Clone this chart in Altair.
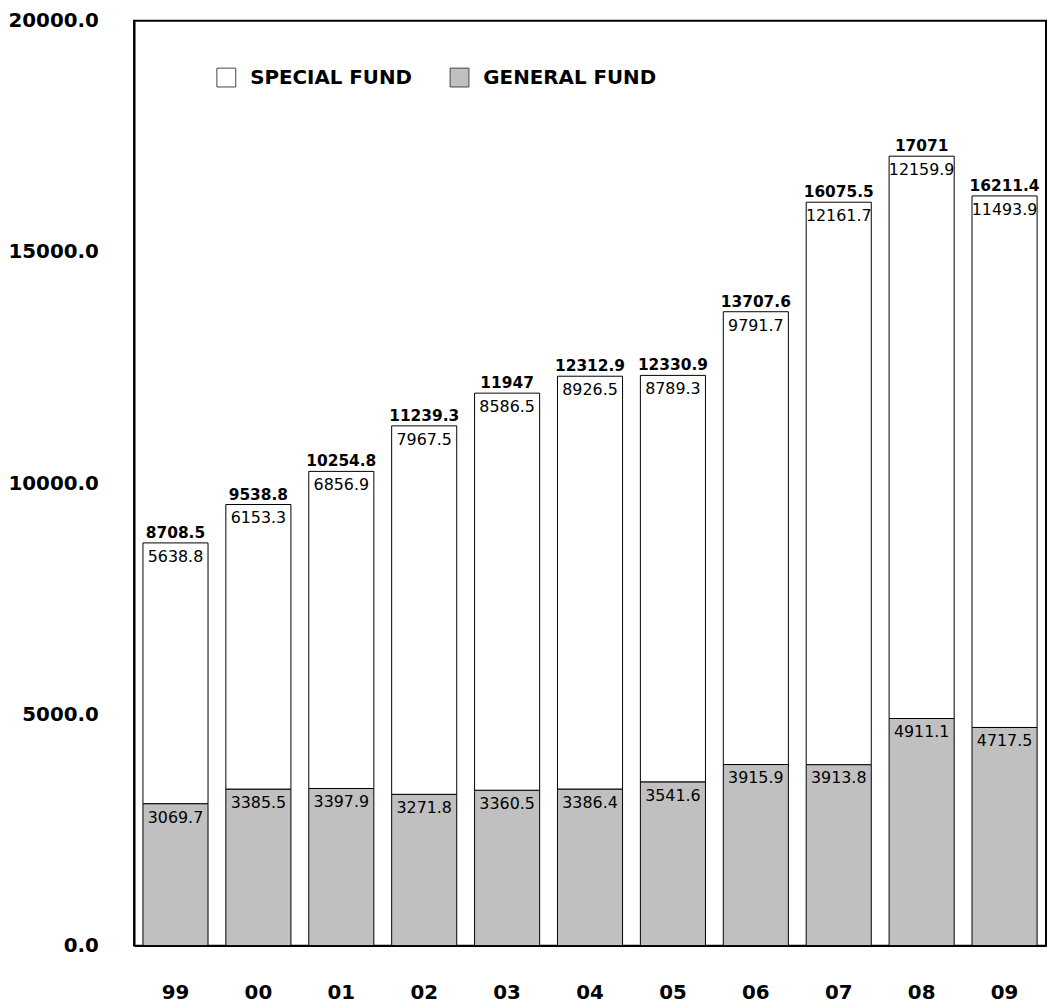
import altair as alt
import pandas as pd

years = ["99", "00", "01", "02", "03", "04", "05", "06", "07", "08", "09"]
special = [5638.8, 6153.3, 6856.9, 7967.5, 8586.5, 8926.5, 8789.3, 9791.7, 12161.7, 12159.9, 11493.9]
general = [3069.7, 3385.5, 3397.9, 3271.8, 3360.5, 3386.4, 3541.6, 3915.9, 3913.8, 4911.1, 4717.5]
totals = [8708.5, 9538.8, 10254.8, 11239.3, 11947, 12312.9, 12330.9, 13707.6, 16075.5, 17071, 16211.4]
y_ticks = [0, 5000, 10000, 15000, 20000]
funds = ["SPECIAL FUND", "GENERAL FUND"]
fund_colors = ["white", "#c0c0c0"]

FONT = "DejaVu Sans"


def fmt(v):
    return f"{v:g}"


rows = []
for i, yr in enumerate(years):
    rows.append(dict(year=yr, fund="GENERAL FUND", lo=0, hi=general[i],
                     label=fmt(general[i])))
    rows.append(dict(year=yr, fund="SPECIAL FUND", lo=general[i], hi=totals[i],
                     label=fmt(special[i])))
df = pd.DataFrame(rows)
df_tot = pd.DataFrame({"year": years, "total": totals,
                       "tlabel": [fmt(t) for t in totals]})

x_enc = alt.X(
    "year:N", sort=years,
    scale=alt.Scale(paddingInner=0.215, paddingOuter=0.1075),
    axis=alt.Axis(title=None, labelAngle=0, labelFont=FONT, labelFontSize=20,
                  labelFontWeight="bold", labelColor="black", labelPadding=37,
                  ticks=False, domainColor="black", domainWidth=2),
)
y_scale = alt.Scale(domain=[0, 20000], nice=False, zero=True)

bars = alt.Chart(df).mark_bar(stroke="black", strokeWidth=1, opacity=1).encode(
    x=x_enc,
    y=alt.Y("lo:Q", scale=y_scale,
            axis=alt.Axis(values=y_ticks, format=".1f", title=None, grid=False,
                          ticks=False, labelPadding=36, labelFont=FONT,
                          labelFontSize=20, labelFontWeight="bold",
                          labelColor="black", domainColor="black",
                          domainWidth=2)),
    y2="hi:Q",
    color=alt.Color("fund:N",
                    scale=alt.Scale(domain=funds, range=fund_colors),
                    legend=alt.Legend(orient="none", legendX=83, legendY=47,
                                      direction="horizontal", title=None,
                                      symbolType="square", symbolSize=361,
                                      symbolStrokeColor="#444",
                                      symbolStrokeWidth=1, symbolOpacity=1,
                                      labelFont=FONT, labelFontSize=20,
                                      labelFontWeight="bold", labelColor="black",
                                      labelOffset=14, columnPadding=35,
                                      labelLimit=300, padding=0)),
)

vals = alt.Chart(df).mark_text(baseline="alphabetic", dy=19, font=FONT,
                               fontSize=16, color="black").encode(
    x=alt.X("year:N", sort=years),
    y=alt.Y("hi:Q", scale=y_scale),
    text="label:N",
)

tots = alt.Chart(df_tot).mark_text(baseline="alphabetic", dy=-5, font=FONT,
                                   fontSize=15.5, fontWeight="bold",
                                   color="black").encode(
    x=alt.X("year:N", sort=years),
    y=alt.Y("total:Q", scale=y_scale),
    text="tlabel:N",
)

chart = alt.layer(bars, vals, tots).properties(
    width=919, height=932,
    padding={"left": 127, "top": 9, "right": 1, "bottom": 57},
    autosize=alt.AutoSizeParams(type="none"),
).configure_view(stroke="black", strokeWidth=2)

chart.save("out.html", embed_options={"renderer": "svg", "actions": False})
